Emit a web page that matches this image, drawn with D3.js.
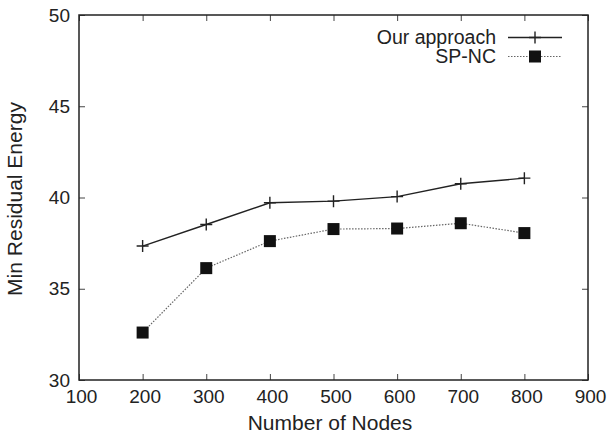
<!DOCTYPE html>
<html>
<head>
<meta charset="utf-8">
<script src="https://cdn.jsdelivr.net/npm/d3@7"></script>
<style>
  html, body { margin: 0; padding: 0; background: #fff; overflow: hidden; }
  svg { display: block; }
  text { font-family: "Liberation Sans", Arial, sans-serif; fill: #222; }
</style>
</head>
<body>
<svg id="chart"></svg>
<script>
const nodes = [200, 300, 400, 500, 600, 700, 800];
const ourApproach = [37.34, 38.52, 39.71, 39.80, 40.05, 40.75, 41.06];
const spNc = [32.6, 36.13, 37.61, 38.27, 38.30, 38.59, 38.05];
const seriesNames = ["Our approach", "SP-NC"];
const xTicks = [100, 200, 300, 400, 500, 600, 700, 800, 900];
const yTicks = [30, 35, 40, 45, 50];

const width = 607, height = 436;
const margin = { left: 79, right: 19, top: 15, bottom: 56 };
const innerWidth = width - margin.left - margin.right;
const innerHeight = height - margin.top - margin.bottom;

const svg = d3.select('#chart')
    .attr('width', width)
    .attr('height', height);

const g = svg.append('g')
    .attr('transform', `translate(${margin.left},${margin.top})`);

const xScale = d3.scaleLinear().domain([100, 900]).range([0, innerWidth]);
const yScale = d3.scaleLinear().domain([30, 50]).range([innerHeight, 0]);

// inward ticks on all four sides, gnuplot style
const tickLen = 6;
const tickStyle = sel => {
  sel.select('.domain').remove();
  sel.selectAll('line').attr('stroke', '#444').attr('stroke-width', 1);
  sel.selectAll('text').style('font-size', '19px');
};
// mirror axes carry no labels
const noLabels = sel => sel.selectAll('text').remove();

g.append('g')
  .attr('transform', `translate(0,${innerHeight})`)
  .call(d3.axisBottom(xScale).tickValues(xTicks).tickSize(-tickLen))
  .call(tickStyle)
  .selectAll('text')
    .attr('y', 23)
    .attr('dy', null)
    .attr('dx', 2);

g.append('g')
  .call(d3.axisTop(xScale).tickValues(xTicks).tickSize(-tickLen))
  .call(tickStyle)
  .call(noLabels);

g.append('g')
  .call(d3.axisLeft(yScale).tickValues(yTicks).tickSize(-tickLen))
  .call(tickStyle)
  .selectAll('text')
    .attr('x', -9);

g.append('g')
  .attr('transform', `translate(${innerWidth},0)`)
  .call(d3.axisRight(yScale).tickValues(yTicks).tickSize(-tickLen))
  .call(tickStyle)
  .call(noLabels);

// frame
g.append('rect')
  .attr('width', innerWidth)
  .attr('height', innerHeight)
  .attr('fill', 'none')
  .attr('stroke', '#222')
  .attr('stroke-width', 1.5);

const line = d3.line()
  .x(d => xScale(d[0]))
  .y(d => yScale(d[1]));

const ourData = nodes.map((n, i) => [n, ourApproach[i]]);
const spData = nodes.map((n, i) => [n, spNc[i]]);

// SP-NC dotted line + squares
g.append('path')
  .datum(spData)
  .attr('d', line)
  .attr('fill', 'none')
  .attr('stroke', '#666')
  .attr('stroke-width', 1.2)
  .attr('stroke-dasharray', '1.5,1.5');

g.selectAll('.sq')
  .data(spData)
  .enter()
  .append('rect')
  .attr('class', 'sq')
  .attr('x', d => xScale(d[0]) - 6)
  .attr('y', d => yScale(d[1]) - 6)
  .attr('width', 12)
  .attr('height', 12)
  .attr('fill', '#111');

// Our approach solid line + plus markers
g.append('path')
  .datum(ourData)
  .attr('d', line)
  .attr('fill', 'none')
  .attr('stroke', '#222')
  .attr('stroke-width', 1.4);

g.selectAll('.pl')
  .data(ourData)
  .enter()
  .append('path')
  .attr('class', 'pl')
  .attr('d', d => `M${xScale(d[0]) - 6},${yScale(d[1])}h12M${xScale(d[0])},${yScale(d[1]) - 6}v12`)
  .attr('stroke', '#222')
  .attr('stroke-width', 1.4);

// legend
const legend = svg.append('g');
const legendRows = [
  { name: seriesNames[0], y: 37.5, dash: null, sw: 1.4, stroke: '#222' },
  { name: seriesNames[1], y: 56.5, dash: '1.5,1.5', sw: 1.2, stroke: '#666' }
];
legendRows.forEach((r, i) => {
  legend.append('text')
    .attr('x', 496)
    .attr('y', r.y)
    .attr('dy', '0.35em')
    .attr('text-anchor', 'end')
    .style('font-size', '19.5px')
    .text(r.name);
  legend.append('line')
    .attr('x1', 508).attr('x2', 562)
    .attr('y1', r.y).attr('y2', r.y)
    .attr('stroke', r.stroke)
    .attr('stroke-width', r.sw)
    .attr('stroke-dasharray', r.dash);
  if (i === 0) {
    legend.append('path')
      .attr('d', `M529,${r.y}h12M535,${r.y - 6}v12`)
      .attr('stroke', '#222')
      .attr('stroke-width', 1.4);
  } else {
    legend.append('rect')
      .attr('x', 529).attr('y', r.y - 6)
      .attr('width', 12).attr('height', 12)
      .attr('fill', '#111');
  }
});

// axis labels
svg.append('text')
  .attr('x', 330)
  .attr('y', 430)
  .attr('text-anchor', 'middle')
  .style('font-size', '21px')
  .text('Number of Nodes');

svg.append('text')
  .attr('transform', `translate(22,199) rotate(-90)`)
  .attr('text-anchor', 'middle')
  .style('font-size', '21px')
  .text('Min Residual Energy');
</script>
</body>
</html>
